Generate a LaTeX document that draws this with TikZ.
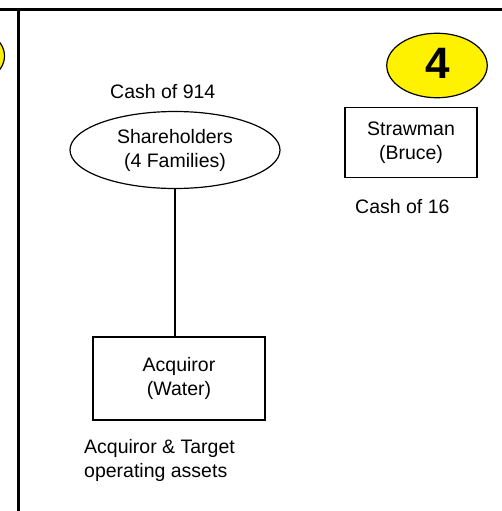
\documentclass[tikz,border=0pt]{standalone}
\usepackage{fontspec}
\setmainfont{Liberation Sans}
\usetikzlibrary{shapes.geometric}
\begin{document}
\begin{tikzpicture}[x=1pt,y=-1pt,
  lbl/.style={font=\fontsize{19.5}{24}\selectfont, inner sep=0pt},
  boxnode/.style={draw, line width=1.2pt, rectangle, inner sep=0pt, align=center, font=\fontsize{19.5}{24}\selectfont},
  ellnode/.style={draw, line width=1.2pt, ellipse, inner sep=0pt, align=center, font=\fontsize{19.5}{24}\selectfont},
  badge/.style={draw, line width=1.2pt, ellipse, fill=yellow, inner sep=0pt, font=\fontsize{44}{44}\selectfont\bfseries},
  frame/.style={line width=3pt}]
\useasboundingbox (0,0) rectangle (502,511);
\begin{scope}
\clip (0,0) rectangle (502,511);
\node[badge, minimum width=100pt, minimum height=64pt] (prevbadge) at (-45.5,56) {};
\end{scope}
\draw[frame] (0,10) -- (502,10);
\draw[frame] (18,10) -- (18,511);
\node[badge, minimum width=100.5pt, minimum height=64.5pt] (badge4) at (437,65.5) {};
\node[font=\fontsize{44}{44}\selectfont\bfseries, inner sep=0pt] (num4) at (437.8,63.3) {4};
\node[ellnode, minimum width=210pt, minimum height=77pt] (sh) at (175,150) {Shareholders\\(4 Families)};
\node[lbl, anchor=base west] (cash914) at (110,98) {Cash of 914};
\node[boxnode, minimum width=132pt, minimum height=70pt] (straw) at (411,142.7) {Strawman\\(Bruce)};
\node[lbl, anchor=base west] (cash16) at (355,213) {Cash of 16};
\node[boxnode, minimum width=172pt, minimum height=83pt] (acq) at (179,378.5) {Acquiror\\(Water)};
\node[lbl, anchor=base west] (assets1) at (84,453) {Acquiror \& Target};
\node[lbl, anchor=base west] (assets2) at (84,477) {operating assets};
\draw[line width=1.2pt] (sh.south) -- (sh.south |- acq.north);
\end{tikzpicture}
\end{document}
